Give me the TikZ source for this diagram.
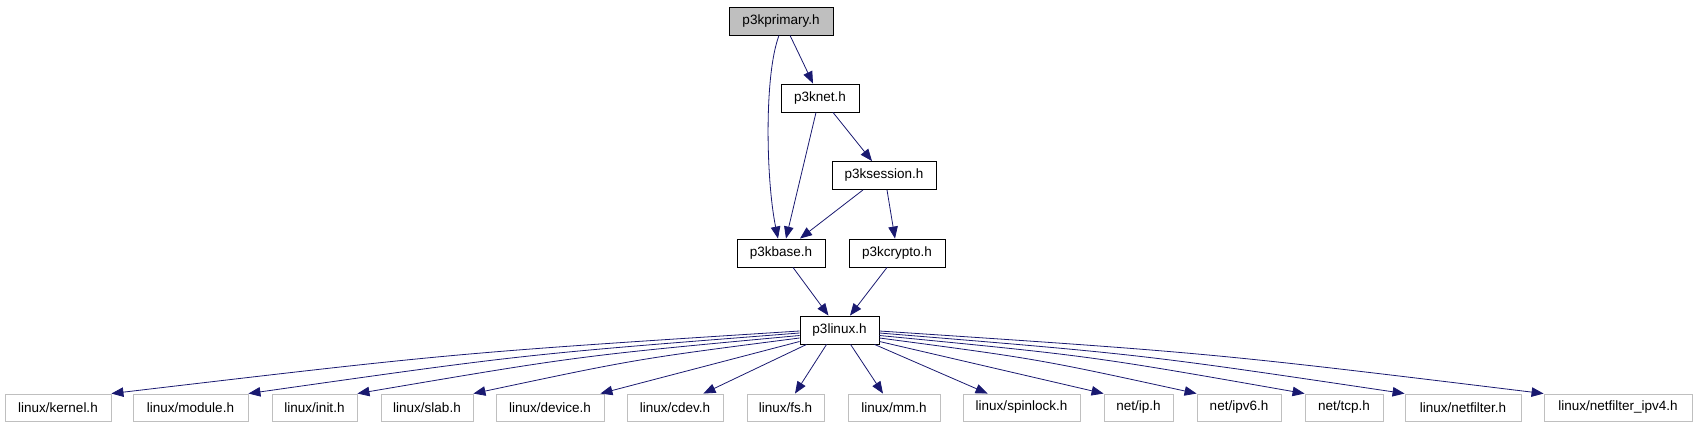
\documentclass[tikz,border=0pt]{standalone}
\usepackage{fontspec}
\setmainfont{Liberation Sans}
\usetikzlibrary{arrows.meta,calc}
\definecolor{edgeblue}{HTML}{191970}
\definecolor{boxgray}{HTML}{BFBFBF}
\begin{document}
\begin{tikzpicture}[x=1pt,y=-1pt,
  every node/.style={font=\fontsize{13.5}{15}\selectfont, inner sep=0pt, anchor=center},
  mainbox/.style={draw=black, line width=0.9pt, fill=white, minimum height=28pt},
  rootbox/.style={mainbox, fill=boxgray},
  extbox/.style={draw=boxgray, line width=0.9pt, fill=white, minimum height=27pt},
  edge/.style={draw=edgeblue, line width=0.8pt, -{Triangle[length=12pt,width=9.5pt]}}
]
\useasboundingbox (0,0) rectangle (1696,427);

% main nodes
\node[rootbox, minimum width=104pt] (p3kprimary) at (781,21) {p3kprimary.h};
\node[mainbox, minimum width=78pt] (p3knet) at (820,98) {p3knet.h};
\node[mainbox, minimum width=104pt] (p3ksession) at (884,175.5) {p3ksession.h};
\node[mainbox, minimum width=88pt] (p3kbase) at (781,253) {p3kbase.h};
\node[mainbox, minimum width=96pt] (p3kcrypto) at (897,253) {p3kcrypto.h};
\node[mainbox, minimum width=79pt] (p3linux) at (839.5,330) {p3linux.h};

% external headers
\node[extbox, minimum width=106pt] (kernel) at (58,407.5) {linux/kernel.h};
\node[extbox, minimum width=115pt] (module) at (190.5,407.5) {linux/module.h};
\node[extbox, minimum width=85pt] (init) at (314.5,407.5) {linux/init.h};
\node[extbox, minimum width=92pt] (slab) at (427,407.5) {linux/slab.h};
\node[extbox, minimum width=108pt] (device) at (550,407.5) {linux/device.h};
\node[extbox, minimum width=96pt] (cdev) at (675,407.5) {linux/cdev.h};
\node[extbox, minimum width=77pt] (fs) at (785.5,407.5) {linux/fs.h};
\node[extbox, minimum width=92pt] (mm) at (894,407.5) {linux/mm.h};
\node[extbox, minimum width=117pt] (spinlock) at (1021.5,407.5) {linux/spinlock.h};
\node[extbox, minimum width=69pt] (ip) at (1138.5,407.5) {net/ip.h};
\node[extbox, minimum width=84pt] (ipv6) at (1239,407.5) {net/ipv6.h};
\node[extbox, minimum width=78pt] (tcp) at (1344,407.5) {net/tcp.h};
\node[extbox, minimum width=116pt] (netfilter) at (1463,407.5) {linux/netfilter.h};
\node[extbox, minimum width=148pt] (nfipv4) at (1618,407.5) {linux/netfilter\_ipv4.h};

% upper edges
\draw[edge] ($(p3kprimary.south)+(-2,0)$) .. controls (764,75) and (766,180) .. ($(p3kbase.north)+(-3,0)$);
\draw[edge] ($(p3kprimary.south)+(9,0)$) .. controls (798,52) .. ($(p3knet.north)+(-7,0)$);
\draw[edge] ($(p3knet.south)+(-4,0)$) -- ($(p3kbase.north)+(5,0)$);
\draw[edge] ($(p3knet.south)+(13,0)$) -- ($(p3ksession.north)+(-12,0)$);
\draw[edge] ($(p3ksession.south)+(-21,0)$) -- ($(p3kbase.north)+(19,0)$);
\draw[edge] ($(p3ksession.south)+(3,0)$) -- ($(p3kcrypto.north)+(-2,0)$);
\draw[edge] ($(p3kbase.south)+(12,0)$) -- ($(p3linux.north)+(-11,0)$);
\draw[edge] ($(p3kcrypto.south)+(-10,0)$) -- ($(p3linux.north)+(10.5,0)$);

% lower edges, left side
\draw[edge] ($(p3linux.west)+(0,1)$) .. controls (455.5,353) .. (kernel.north east);
\draw[edge] ($(p3linux.west)+(0,3)$) .. controls (524,354.4) .. (module.north east);
\draw[edge] ($(p3linux.west)+(0,5.5)$) .. controls (578.5,356) .. (init.north east);
\draw[edge] ($(p3linux.west)+(0,8)$) .. controls (636.5,359) .. (slab.north east);
\draw[edge] ($(p3linux.west)+(0,11.5)$) -- ($(device.north east)+(-4,0)$);
\draw[edge] ($(p3linux.south west)+(7,0)$) -- ($(cdev.north east)+(-20,0)$);
\draw[edge] ($(p3linux.south west)+(27,0)$) -- ($(fs.north)+(9.5,0)$);
\draw[edge] ($(p3linux.south west)+(51,0)$) -- ($(mm.north)+(-11,0)$);
\draw[edge] ($(p3linux.south west)+(75,0)$) -- ($(spinlock.north west)+(25,0)$);

% lower edges, right side
\draw[edge] ($(p3linux.east)+(0,11.5)$) -- (ip.north west);
\draw[edge] ($(p3linux.east)+(0,8)$) .. controls (1038,359) .. (ipv6.north west);
\draw[edge] ($(p3linux.east)+(0,5.5)$) .. controls (1091,356) .. (tcp.north west);
\draw[edge] ($(p3linux.east)+(0,3)$) .. controls (1141.5,354.4) .. (netfilter.north west);
\draw[edge] ($(p3linux.east)+(0,1)$) .. controls (1211,353) .. (nfipv4.north west);
\end{tikzpicture}
\end{document}
